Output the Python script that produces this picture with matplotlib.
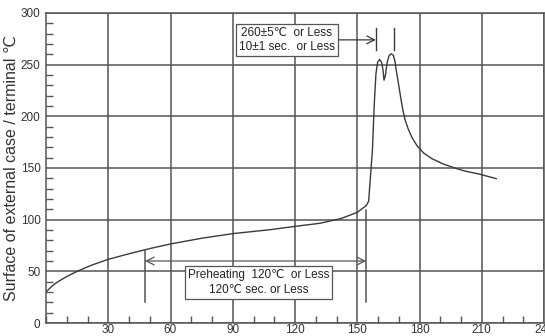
import numpy as np
import matplotlib.pyplot as plt
from matplotlib.ticker import MultipleLocator

plt.rcParams['font.family'] = ['Liberation Sans', 'DejaVu Sans']

# reflow profile (time in s, temperature in C)
time_s = [0, 2.5, 5, 10, 15, 22, 30, 40, 50, 60, 75, 90, 108, 120, 132, 142, 150, 154.4,
          155.5, 156.3, 157.3, 158.2, 159, 159.8, 160.8, 161.8, 162.4, 162.9, 163.6,
          164.4, 165.4, 166.4, 167.4, 168.2, 168.8, 169.6, 170.4, 171.2, 172, 173, 174.5,
          176.5, 179, 182, 186, 191.3, 197, 202, 209, 217]
temp_c = [30, 35, 39, 45, 50, 56, 61.6, 67, 72, 76.5, 82, 86.5, 90.3, 93.5, 96.5, 101, 107, 113.8,
          118, 140, 167, 212, 241, 252.4, 255, 252, 245, 235, 240,
          252, 259, 260.5, 259, 253, 244.4, 235, 225, 215, 206, 197, 188,
          179, 171, 164.5, 159, 154, 150, 147, 144, 139.7]

x_ticks = [30, 60, 90, 120, 150, 180, 210, 240]
y_ticks = [0, 50, 100, 150, 200, 250, 300]

fig = plt.figure(figsize=(5.45, 3.36), dpi=100)
ax = fig.add_axes([46 / 545, 13 / 336, 498 / 545, 310 / 336])

line_col = '#3a3a3a'
ax.set_xlim(0, 240)
ax.set_ylim(0, 300)
ax.set_xticks(x_ticks)
ax.set_yticks(y_ticks)
ax.xaxis.set_minor_locator(MultipleLocator(10))
ax.yaxis.set_minor_locator(MultipleLocator(10))
ax.tick_params(which='both', direction='in', color='#555555', labelcolor='#333333',
               labelsize=8.5, width=1)
ax.tick_params(which='major', length=0, pad=4)
ax.tick_params(which='minor', length=5)
ax.tick_params(axis='x', pad=0.5)
ax.grid(True, which='major', color='#555555', linewidth=1.1)
for s in ax.spines.values():
    s.set_color('#555555')
    s.set_linewidth(1.1)

ax.plot(time_s, temp_c, color=line_col, linewidth=1.0)

ax.set_ylabel('Surface of external case / terminal \u2103', fontsize=11.5,
              color='#333333', labelpad=1)

# peak annotation
ax.plot([159, 159], [264, 285], color=line_col, lw=1)
ax.plot([167.7, 167.7], [264, 285], color=line_col, lw=1)
ax.annotate('', xy=(159, 274), xytext=(137, 274),
            arrowprops=dict(arrowstyle='->', color=line_col, lw=0.9,
                            mutation_scale=14, shrinkA=0, shrinkB=0))
ax.text(116, 274, '260\u00b15\u2103  or Less\n10\u00b11 sec.  or Less',
        ha='center', va='center', fontsize=8.5, color='#222222', linespacing=1.3,
        bbox=dict(boxstyle='square,pad=0.25', fc='white', ec='#555555', lw=0.9))

# preheating annotation
ax.plot([47.7, 47.7], [20.3, 70.3], color='#555555', lw=1.1)
ax.plot([154.3, 154.3], [20.3, 109], color='#555555', lw=1.1)
ax.annotate('', xy=(47.7, 60), xytext=(154.3, 60),
            arrowprops=dict(arrowstyle='<->', color='#555555', lw=0.9,
                            mutation_scale=14, shrinkA=0, shrinkB=0))
ax.text(102.3, 39.4, 'Preheating  120\u2103  or Less\n120\u2103 sec. or Less',
        ha='center', va='center', fontsize=8.5, color='#222222', linespacing=1.3,
        bbox=dict(boxstyle='square,pad=0.25', fc='white', ec='#555555', lw=0.9))

fig.savefig('out.png', dpi=100)
